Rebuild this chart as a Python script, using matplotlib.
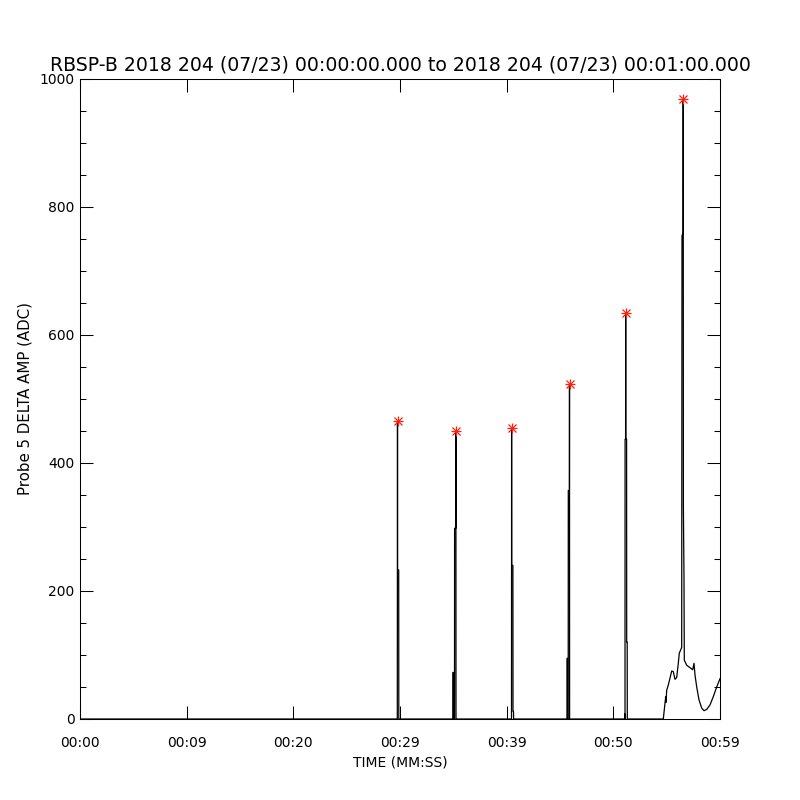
import matplotlib
matplotlib.use("Agg")
import matplotlib.pyplot as plt
from matplotlib.ticker import MultipleLocator

# ---- data (time in seconds from 00:00:00, amplitude in ADC) ----
time_s = [
    0.0, 29.747, 29.766, 29.775, 29.878, 29.888,
    34.978, 34.988, 34.997, 35.109, 35.119, 35.231, 35.241, 35.250,
    40.453, 40.463, 40.472, 40.584, 40.594, 40.641, 40.650,
    45.675, 45.684, 45.694, 45.769, 45.778, 45.881, 45.891, 45.900,
    51.056, 51.066, 51.075, 51.094, 51.103, 51.150, 51.159, 51.169,
    51.244, 51.253, 51.300, 51.309,
    54.684, 54.909, 54.938, 55.003, 55.153, 55.313, 55.472, 55.622,
    55.781, 55.941, 56.091, 56.184, 56.316,
    56.409, 56.438, 56.541, 56.550, 56.569, 56.625, 56.653,
    56.878, 57.281, 57.441, 57.563, 57.656, 57.816, 58.031, 58.284,
    58.500, 58.753, 59.063, 59.372, 59.691, 60.0,
]
amp_adc = [
    0, 0, 466, 233, 233, 0,
    0, 73, 0, 0, 298, 298, 450, 0,
    0, 455, 240, 240, 12, 12, 0,
    0, 95, 0, 0, 357, 357, 523, 0,
    0, 8, 0, 0, 437, 437, 635, 437,
    437, 120, 120, 0,
    0, 35, 26, 45, 53, 64, 75, 74,
    62, 65, 87, 103, 108,
    112, 755, 760, 969, 330, 220, 92,
    84, 79, 77, 87, 69, 50, 30, 17,
    13, 15, 22, 35, 50, 63,
]

peak_time_s = [29.766, 35.241, 40.463, 45.891, 51.159, 56.550]
peak_amp_adc = [466, 450, 455, 523, 635, 969]

x_tick_values = [0, 10, 20, 30, 40, 50, 60]
x_tick_labels = ["00:00", "00:09", "00:20", "00:29", "00:39", "00:50", "00:59"]

title_text = "RBSP-B 2018 204 (07/23) 00:00:00.000 to 2018 204 (07/23) 00:01:00.000"
x_label_text = "TIME (MM:SS)"
y_label_text = "Probe 5 DELTA AMP (ADC)"

# ---- figure ----
plt.rcParams['font.family'] = ['DejaVu Sans']
fig = plt.figure(figsize=(8, 8), dpi=100)
ax = fig.add_axes([0.1, 0.10125, 0.8, 0.8])

ax.plot(time_s, amp_adc, color="black", linewidth=0.9, antialiased=True)
# IDL-style asterisk: plus and cross overlaid
ax.plot(peak_time_s, peak_amp_adc, linestyle="none", marker="+",
        color="#ff2010", markersize=7.5, markeredgewidth=0.9)
ax.plot(peak_time_s, peak_amp_adc, linestyle="none", marker="x",
        color="#ff2010", markersize=5.5, markeredgewidth=0.9)

ax.set_xlim(0, 60)
ax.set_ylim(0, 1000)
ax.set_xticks(x_tick_values)
ax.set_xticklabels(x_tick_labels)
ax.yaxis.set_major_locator(MultipleLocator(200))
ax.yaxis.set_minor_locator(MultipleLocator(50))

ax.tick_params(axis="both", which="both", direction="in", top=True, right=True,
               width=0.75, colors="black", labelsize=10)
ax.tick_params(axis="both", which="major", length=9.2)
ax.tick_params(axis="y", which="minor", length=4.6)
ax.tick_params(axis="x", which="major", pad=12)
ax.tick_params(axis="y", which="major", pad=4)
for s in ax.spines.values():
    s.set_linewidth(0.75)

ax.set_title(title_text, fontsize=13.6, pad=6)
ax.set_xlabel(x_label_text, fontsize=10, labelpad=4)
ax.set_ylabel(y_label_text, fontsize=10.8, labelpad=5)

fig.savefig("out.png", dpi=100)
